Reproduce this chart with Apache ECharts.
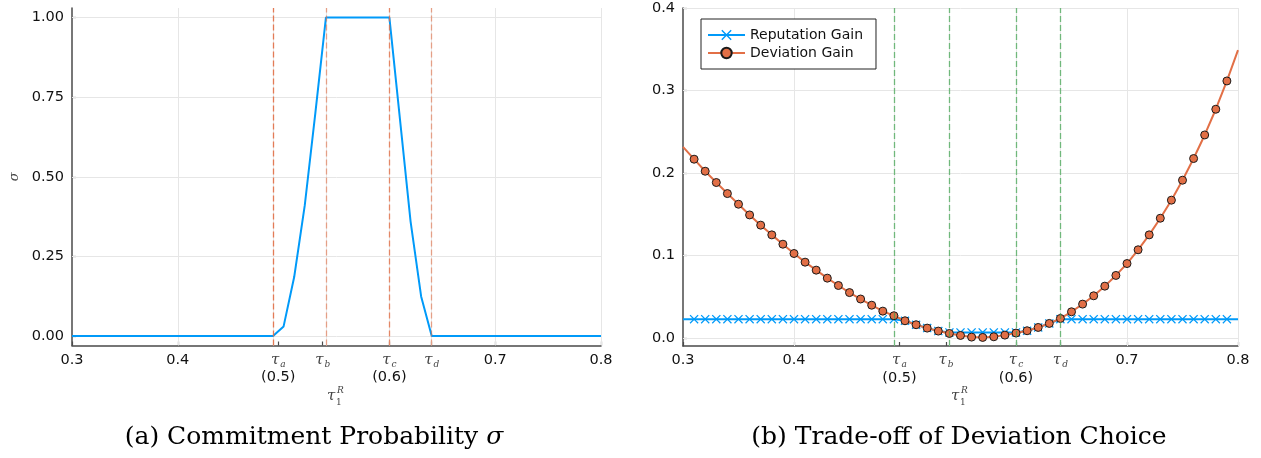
<!DOCTYPE html>
<html>
<head>
<meta charset="utf-8">
<script src="https://cdn.jsdelivr.net/npm/echarts@6/dist/echarts.min.js"></script>
<style>
  html, body { margin: 0; padding: 0; background: #fff; }
  #main { width: 1261px; height: 458px; }
</style>
</head>
<body>
<div id="main"></div>
<script>
// thresholds tau_a .. tau_d
var tauVals = [0.495, 0.537, 0.600, 0.640];
var tauNames = ['a', 'b', 'c', 'd'];
var tauNotes = ['(0.5)', '', '(0.6)', ''];
var xTicks = [0.3, 0.4, 0.495, 0.537, 0.6, 0.64, 0.7, 0.8];
var xGrid = [0.4, 0.7, 0.8];

// (a) commitment probability sigma
var sigmaX = [0.30, 0.49, 0.50, 0.51, 0.52, 0.53, 0.54, 0.60, 0.61, 0.62, 0.63, 0.64, 0.80];
var sigmaY = [0, 0, 0.03, 0.185, 0.41, 0.70, 1.00, 1.00, 0.68, 0.36, 0.124, 0, 0];
var yTicksL = [0, 0.25, 0.5, 0.75, 1.0];

// (b) trade-off of deviation choice
var tauR = [0.30, 0.31, 0.32, 0.33, 0.34, 0.35, 0.36, 0.37, 0.38, 0.39,
            0.40, 0.41, 0.42, 0.43, 0.44, 0.45, 0.46, 0.47, 0.48, 0.49,
            0.50, 0.51, 0.52, 0.53, 0.54, 0.55, 0.56, 0.57, 0.58, 0.59,
            0.60, 0.61, 0.62, 0.63, 0.64, 0.65, 0.66, 0.67, 0.68, 0.69,
            0.70, 0.71, 0.72, 0.73, 0.74, 0.75, 0.76, 0.77, 0.78, 0.79, 0.80];
var reputationGain = [0.0225, 0.0225, 0.0225, 0.0225, 0.0225, 0.0225, 0.0225, 0.0225, 0.0225, 0.0225,
                      0.0225, 0.0225, 0.0225, 0.0225, 0.0225, 0.0225, 0.0225, 0.0225, 0.0225, 0.0225,
                      0.0206, 0.0158, 0.0117, 0.0081, 0.0065, 0.0065, 0.0065, 0.0065, 0.0065, 0.0065,
                      0.0065, 0.0085, 0.0125, 0.0174, 0.0225, 0.0225, 0.0225, 0.0225, 0.0225, 0.0225,
                      0.0225, 0.0225, 0.0225, 0.0225, 0.0225, 0.0225, 0.0225, 0.0225, 0.0225, 0.0225, 0.0225];
var deviationGain = [0.2315, 0.2166, 0.2020, 0.1883, 0.1749, 0.1620, 0.1490, 0.1366, 0.1248, 0.1135,
                     0.1022, 0.0917, 0.0820, 0.0723, 0.0634, 0.0548, 0.0470, 0.0395, 0.0323, 0.0267,
                     0.0206, 0.0158, 0.0117, 0.0081, 0.0052, 0.0028, 0.0008, 0.0004, 0.0012, 0.0032,
                     0.0057, 0.0085, 0.0125, 0.0174, 0.0234, 0.0315, 0.0408, 0.0509, 0.0626, 0.0756,
                     0.0900, 0.1067, 0.1248, 0.1450, 0.1669, 0.1911, 0.2174, 0.2460, 0.2772, 0.3115, 0.3490];
var yTicksR = [0, 0.1, 0.2, 0.3, 0.4];

var BLUE = '#009af9', ORANGE = '#e26f46', GREEN = '#3da44d';
var AXIS = '#4a4a4a', GRIDC = '#e6e6e6';
var SANS = 'DejaVu Sans', SERIF = 'DejaVu Serif';
var crossPath = 'path://M0,1L1,0L5,4L9,0L10,1L6,5L10,9L9,10L5,6L1,10L0,9L4,5Z';

function zip(xs, ys) {
	return xs.map(function (x, i) { return [x, ys[i]]; });
}

function xLabel(v) {
	for (var i = 0; i < tauVals.length; i++) {
		if (Math.abs(tauVals[i] - v) < 1e-6) {
			return '{t|τ}{s|' + tauNames[i] + '}' + (tauNotes[i] ? '\n{p|' + tauNotes[i] + '}' : '');
		}
	}
	return '{n|' + v.toFixed(1) + '}';
}

var labelRich = {
	n: { fontFamily: SANS, fontSize: 14.5, color: '#111', lineHeight: 17 },
	p: { fontFamily: SANS, fontSize: 14.5, color: '#111', lineHeight: 18 },
	t: { fontFamily: SERIF, fontStyle: 'italic', fontSize: 15, color: '#444', lineHeight: 17 },
	s: { fontFamily: SERIF, fontStyle: 'italic', fontSize: 9, color: '#444', lineHeight: 9, padding: [9, 0, 0, 1] }
};

function makeXAxis(idx) {
	return {
		type: 'value', gridIndex: idx, min: 0.3, max: 0.8,
		axisLine: { onZero: false, lineStyle: { color: AXIS, width: 1.5 } },
		axisTick: { inside: true, length: 4, customValues: xTicks, lineStyle: { color: AXIS, width: 1.2 } },
		axisLabel: { customValues: xTicks, formatter: xLabel, rich: labelRich, margin: 6 },
		splitLine: { show: false }
	};
}

function makeYAxis(idx, min, max, ticks, digits) {
	return {
		type: 'value', gridIndex: idx, min: min, max: max,
		axisLine: { show: true, onZero: false, lineStyle: { color: AXIS, width: 1.5 } },
		axisTick: { show: true, inside: true, length: 4, customValues: ticks, lineStyle: { color: AXIS, width: 1.2 } },
		axisLabel: {
			customValues: ticks, margin: 8, color: '#111', fontFamily: SANS, fontSize: 14.5,
			formatter: function (v) { return v.toFixed(digits); }
		},
		splitLine: { show: false }
	};
}

function gridLines(xi, yTicks) {
	var d = xGrid.map(function (v) { return { xAxis: v }; });
	tauVals.forEach(function (v) { d.push({ xAxis: v }); });
	yTicks.forEach(function (v) { d.push({ yAxis: v }); });
	return {
		type: 'line', xAxisIndex: xi, yAxisIndex: xi, data: [], z: 1, silent: true,
		markLine: {
			z: 1, silent: true, symbol: 'none', label: { show: false },
			lineStyle: { color: GRIDC, width: 1, type: 'solid' }, data: d
		}
	};
}

function tauLines(xi, color, alphas) {
	return {
		type: 'line', xAxisIndex: xi, yAxisIndex: xi, data: [], z: 6, silent: true,
		markLine: {
			z: 6, silent: true, symbol: 'none', label: { show: false },
			data: tauVals.map(function (v, i) {
				return { xAxis: v, lineStyle: { color: color, opacity: alphas[i], width: 1.3, type: [6, 3] } };
			})
		}
	};
}

var captionRich = {
	r: { fontFamily: SERIF, fontSize: 25, fill: '#000' },
	i: { fontFamily: SERIF, fontStyle: 'italic', fontSize: 25, fill: '#000' }
};

var chart = echarts.init(document.getElementById('main'));
var option = {
	animation: false,
	backgroundColor: '#fff',
	grid: [
		{ left: 72, top: 8, width: 529, height: 337.5 },
		{ left: 683, top: 8, width: 555, height: 338 }
	],
	xAxis: [makeXAxis(0), makeXAxis(1)],
	yAxis: [
		Object.assign(makeYAxis(0, -0.03, 1.03, yTicksL, 2), {
			name: 'σ', nameLocation: 'middle', nameGap: 51, nameRotate: 90,
			nameTextStyle: { fontFamily: SERIF, fontStyle: 'italic', fontSize: 13, color: '#444' }
		}),
		makeYAxis(1, -0.01, 0.4, yTicksR, 1)
	],
	legend: {
		data: ['Reputation Gain', 'Deviation Gain'],
		orient: 'vertical', left: 701, top: 19,
		itemWidth: 37, itemHeight: 13, itemGap: 4,
		padding: [9, 13, 9, 6],
		backgroundColor: '#fff', borderColor: '#222', borderWidth: 1, borderRadius: 0,
		textStyle: { fontFamily: SANS, fontSize: 14, color: '#111' }
	},
	series: [
		gridLines(0, yTicksL),
		gridLines(1, yTicksR),
		{
			name: 'sigma', type: 'line', xAxisIndex: 0, yAxisIndex: 0, z: 3,
			data: zip(sigmaX, sigmaY), showSymbol: false,
			lineStyle: { color: BLUE, width: 2 }
		},
		{
			name: 'Reputation Gain', type: 'line', xAxisIndex: 1, yAxisIndex: 1, z: 3,
			data: zip(tauR, reputationGain),
			symbol: crossPath,
			symbolSize: function (v, p) { return (p.dataIndex === 0 || p.dataIndex === tauR.length - 1) ? 0 : 9; },
			itemStyle: { color: BLUE },
			lineStyle: { color: BLUE, width: 2 }
		},
		{
			name: 'Deviation Gain', type: 'line', xAxisIndex: 1, yAxisIndex: 1, z: 4,
			data: zip(tauR, deviationGain),
			symbol: 'circle',
			symbolSize: function (v, p) { return (p.dataIndex === 0 || p.dataIndex === tauR.length - 1) ? 0 : 8; },
			itemStyle: { color: ORANGE, borderColor: '#1a1a1a', borderWidth: 1 },
			lineStyle: { color: ORANGE, width: 2 }
		},
		tauLines(0, ORANGE, [0.9, 0.6, 0.8, 0.6]),
		tauLines(1, GREEN, [0.7, 0.7, 0.7, 0.7])
	],
	graphic: [
		// x-axis titles tau_1^R
		{ type: 'text', x: 327, y: 389, style: { text: 'τ', fontFamily: SERIF, fontStyle: 'italic', fontSize: 15, fill: '#444' } },
		{ type: 'text', x: 336, y: 398, style: { text: '1', fontFamily: SERIF, fontSize: 9, fill: '#444' } },
		{ type: 'text', x: 337, y: 386, style: { text: 'R', fontFamily: SERIF, fontStyle: 'italic', fontSize: 9, fill: '#444' } },
		{ type: 'text', x: 951, y: 389, style: { text: 'τ', fontFamily: SERIF, fontStyle: 'italic', fontSize: 15, fill: '#444' } },
		{ type: 'text', x: 960, y: 398, style: { text: '1', fontFamily: SERIF, fontSize: 9, fill: '#444' } },
		{ type: 'text', x: 961, y: 386, style: { text: 'R', fontFamily: SERIF, fontStyle: 'italic', fontSize: 9, fill: '#444' } },
		// captions
		{ type: 'text', x: 314, y: 437, style: { text: '{r|(a) Commitment Probability }{i|σ}', rich: captionRich, align: 'center', verticalAlign: 'middle' } },
		{ type: 'text', x: 959, y: 437, style: { text: '{r|(b) Trade-off of Deviation Choice}', rich: captionRich, align: 'center', verticalAlign: 'middle' } }
	]
};
chart.setOption(option);
</script>
</body>
</html>
